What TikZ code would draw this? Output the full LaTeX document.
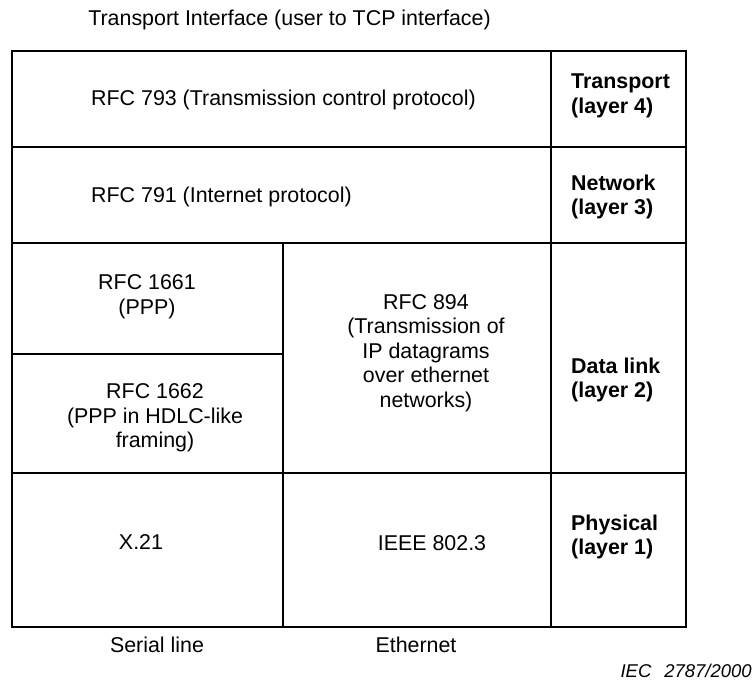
\documentclass[tikz,border=0pt]{standalone}
\usepackage{fontspec}
\setmainfont{Liberation Sans}
\begin{document}
\begin{tikzpicture}[x=1pt,y=-1pt,
  cell/.style={draw,line width=1.8pt},
  txt/.style={inner sep=0pt,align=center,font=\fontsize{21.4}{24.6}\selectfont},
  lay/.style={inner sep=0pt,align=left,anchor=west,font=\fontsize{21.4}{24.6}\selectfont\bfseries},
  iec/.style={inner sep=0pt,anchor=base east,font=\fontsize{18.5}{22}\selectfont\itshape}]
\useasboundingbox (0,0) rectangle (755,681);
% grid
\draw[cell] (12,51) rectangle (686,627);
\draw[cell] (551,51) -- (551,627);
\draw[cell] (12,147) -- (686,147);
\draw[cell] (12,243) -- (686,243);
\draw[cell] (283,243) -- (283,627);
\draw[cell] (12,354) -- (283,354);
\draw[cell] (12,473) -- (686,473);
% texts
\node[txt] (title) at (289.5,20) {Transport Interface (user to TCP interface)};
\node[txt,anchor=west] (tcp) at (91,100) {RFC 793 (Transmission control protocol)};
\node[txt,anchor=west] (ip) at (91,197) {RFC 791 (Internet protocol)};
\node[lay] (l4) at (571,96) {Transport\\(layer 4)};
\node[lay] (l3) at (571,197) {Network\\(layer 3)};
\node[lay] (l2) at (571,380) {Data link\\(layer 2)};
\node[lay] (l1) at (571,537) {Physical\\(layer 1)};
\node[txt] (ppp) at (147,297) {RFC 1661\\(PPP)};
\node[txt] (hdlc) at (155,418) {RFC 1662\\(PPP in HDLC-like\\framing)};
\node[txt] (eth) at (426,353) {RFC 894\\(Transmission of\\IP datagrams\\over ethernet\\networks)};
\node[txt] (x21) at (141,542) {X.21};
\node[txt] (ieee) at (432,543) {IEEE 802.3};
\node[txt] (serial) at (157,645) {Serial line};
\node[txt] (ethernet) at (416,645) {Ethernet};
\node[iec] (fig) at (752,677) {IEC\hspace{13pt}2787/2000};
\end{tikzpicture}
\end{document}
